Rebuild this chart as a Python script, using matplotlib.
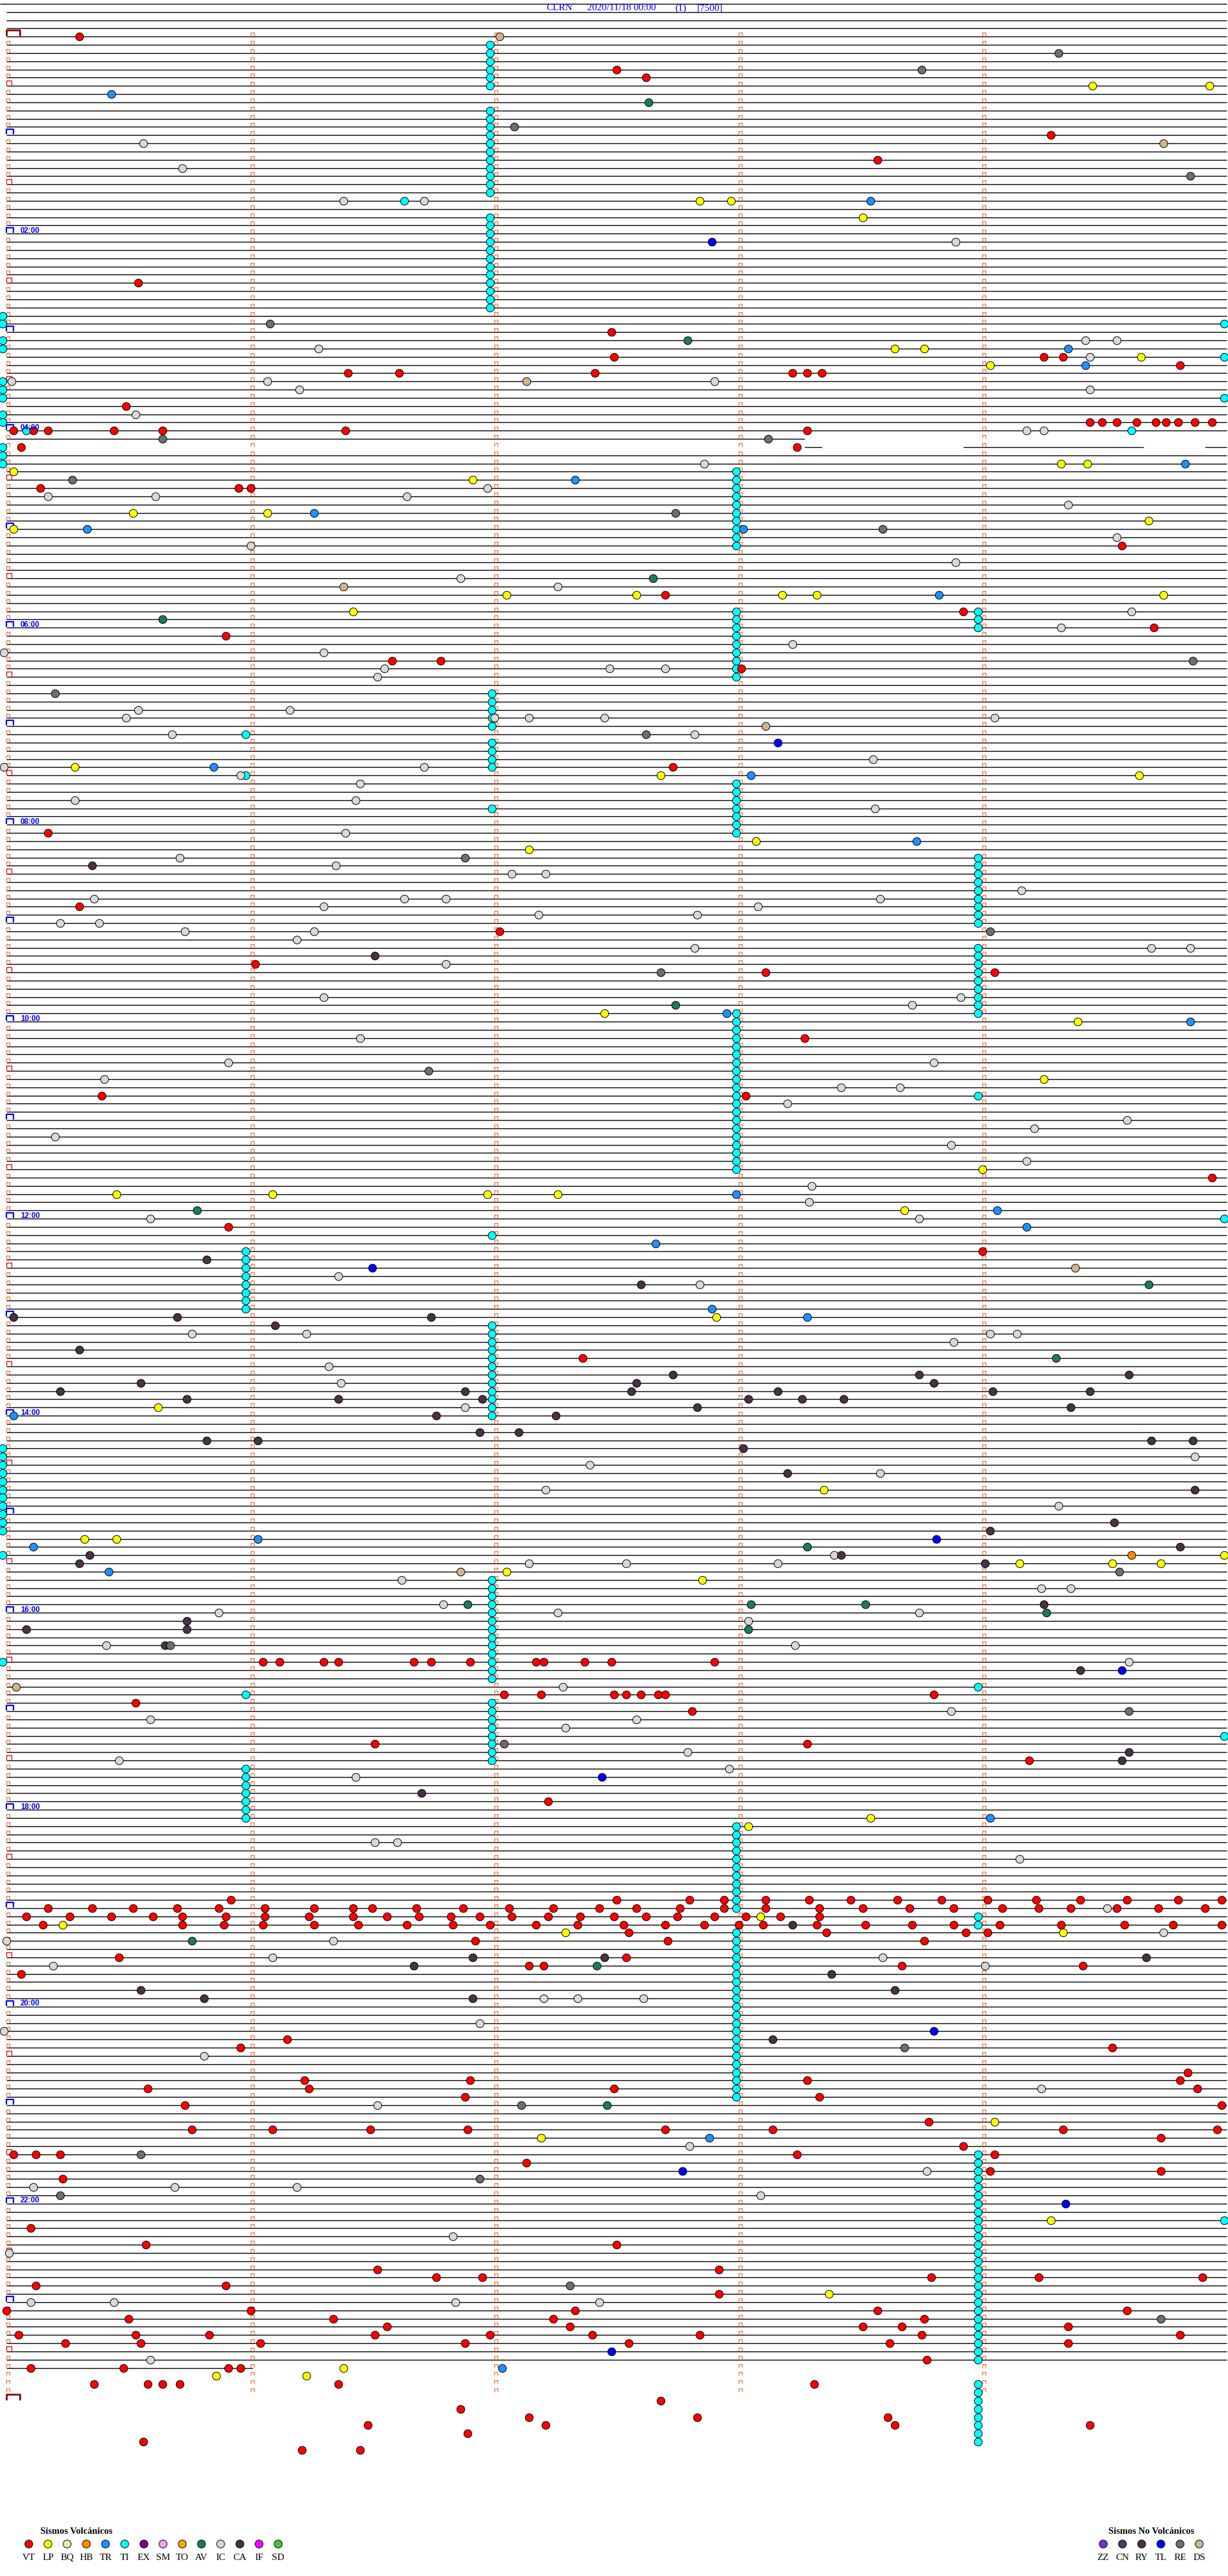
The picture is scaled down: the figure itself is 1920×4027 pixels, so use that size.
import matplotlib
matplotlib.use("Agg")
import matplotlib.pyplot as plt
from matplotlib.collections import LineCollection

# ---------------- data ----------------
TITLE_PARTS = ["CLRN", "2020/11/18 00:00", "(1)", "[7500]"]
HOUR_LABELS = ["02:00", "04:00", "06:00", "08:00", "10:00", "12:00",
               "14:00", "16:00", "18:00", "20:00", "22:00"]
N_ROWS = 288            # 5-minute rows in the day
LAST_FULL_ROW = 283     # trace drawn up to here
# partial traces: row -> list of (start_min, end_min)
TRACE_PIECES = {49: [(0.0, 3.27)],
                50: [(3.27, 3.34), (3.92, 4.66), (4.91, 5.0)],
                284: [(0.0, 1.01)]}

VOLC_CODES = ["VT", "LP", "BQ", "HB", "TR", "TI", "EX", "SM", "TO", "AV", "IC", "CA", "IF", "SD"]
VOLC_COLORS = ["#ff0000", "#ffff00", "#eee8aa", "#ff8c00", "#1e90ff", "#00ffff", "#800080",
               "#e8a8e8", "#ffa500", "#1e7a5a", "#d8d8d8", "#4a3048", "#ff00ff", "#32cd32"]
NOVOLC_CODES = ["ZZ", "CN", "RY", "TL", "RE", "DS"]
NOVOLC_COLORS = ["#7b2fd0", "#483d62", "#4f2a4f", "#0000ff", "#6e6e6e", "#d2b48c"]

# events: (row, minute inside the row)
VT = [(0, 0.30), (4, 2.50), (5, 2.62), (12, 4.28), (15, 3.57), (30, 0.54),
      (36, 2.48), (39, 2.49), (39, 4.25), (39, 4.33), (40, 4.81), (41, 1.40), (41, 1.61), (41, 2.41),
      (41, 3.22), (41, 3.28), (41, 3.34), (45, 0.49),
      (47, 4.44), (47, 4.49), (47, 4.55), (47, 4.63), (47, 4.71), (47, 4.75), (47, 4.80), (47, 4.87), (47, 4.94),
      (48, 0.03), (48, 0.11), (48, 0.17), (48, 0.44), (48, 0.64), (48, 1.39), (48, 3.28),
      (50, 0.06), (50, 3.24), (55, 0.14), (55, 0.95), (55, 1.00),
      (62, 4.57), (68, 2.70), (70, 3.92), (72, 4.70), (73, 0.90), (76, 1.58), (76, 1.78), (77, 3.01),
      (89, 2.73), (97, 0.17), (106, 0.30), (109, 2.02), (113, 1.02), (114, 3.11), (114, 4.05),
      (122, 3.27), (129, 0.39), (129, 3.03), (139, 4.94), (145, 0.91), (148, 4.00), (161, 2.36),
      (198, 1.05), (198, 1.12), (198, 1.30), (198, 1.36), (198, 1.67), (198, 1.74), (198, 1.90),
      (198, 2.17), (198, 2.20), (198, 2.37), (198, 2.48), (198, 2.90),
      (202, 2.04), (202, 2.19), (202, 2.49), (202, 2.54), (202, 2.60), (202, 2.67), (202, 2.70), (202, 3.80),
      (203, 0.53), (204, 2.81), (208, 1.51), (208, 3.28), (210, 4.19), (215, 2.22),
      (227, 0.92), (227, 2.50), (227, 2.80), (227, 2.94), (227, 3.11), (227, 3.29), (227, 3.46), (227, 3.65),
      (227, 3.83), (227, 4.02), (227, 4.22), (227, 4.40), (227, 4.59), (227, 4.80), (227, 4.98),
      (228, 0.17), (228, 0.35), (228, 0.52), (228, 0.70), (228, 0.87), (228, 1.06), (228, 1.26), (228, 1.42),
      (228, 1.50), (228, 1.68), (228, 1.87), (228, 2.06), (228, 2.24), (228, 2.43), (228, 2.58), (228, 2.76),
      (228, 2.94), (228, 3.11), (228, 3.33), (228, 3.51), (228, 3.70), (228, 3.88), (228, 4.08), (228, 4.23),
      (228, 4.36), (228, 4.55), (228, 4.72), (228, 4.91),
      (229, 0.08), (229, 0.26), (229, 0.43), (229, 0.60), (229, 0.72), (229, 0.90), (229, 1.06), (229, 1.24),
      (229, 1.42), (229, 1.56), (229, 1.69), (229, 1.82), (229, 1.94), (229, 2.07), (229, 2.22), (229, 2.35),
      (229, 2.49), (229, 2.62), (229, 2.75), (229, 2.90), (229, 3.03), (229, 3.17), (229, 3.33),
      (230, 0.15), (230, 0.72), (230, 0.89), (230, 1.05), (230, 1.26), (230, 1.44), (230, 1.64), (230, 1.83),
      (230, 1.98), (230, 2.17), (230, 2.34), (230, 2.53), (230, 2.70), (230, 2.86), (230, 3.00), (230, 3.10),
      (230, 3.32), (230, 3.52), (230, 3.71), (230, 3.88), (230, 4.07), (230, 4.32), (230, 4.58), (230, 4.78),
      (230, 4.98),
      (231, 2.55), (231, 3.36), (231, 3.93), (231, 4.02), (232, 1.92), (232, 2.71), (232, 3.76),
      (234, 0.46), (234, 2.54), (235, 2.14), (235, 2.20), (235, 3.67), (235, 4.41), (236, 0.06),
      (244, 1.15), (245, 0.96), (245, 4.53), (248, 4.84), (249, 1.22), (249, 1.90), (249, 3.28), (249, 4.81),
      (250, 1.24), (250, 2.49), (250, 0.58), (250, 4.88), (251, 1.88), (251, 3.33), (252, 0.73), (252, 4.98),
      (254, 3.78), (255, 0.76), (255, 1.09), (255, 1.49), (255, 1.89), (255, 2.70), (255, 3.14), (255, 4.33),
      (255, 4.96), (256, 4.73), (257, 3.92), (258, 0.03), (258, 0.12), (258, 0.22), (258, 3.24), (258, 4.05),
      (259, 2.13), (260, 4.03), (260, 4.73), (261, 0.23),
      (267, 0.10), (269, 0.57), (269, 2.50), (272, 1.52), (272, 2.92), (273, 1.76), (273, 1.95), (273, 3.79),
      (273, 4.23), (273, 4.90), (274, 0.12), (274, 0.90), (275, 2.92),
      (277, 0.00), (277, 1.00), (277, 2.33), (277, 3.57), (277, 4.59),
      (278, 0.50), (278, 1.34), (278, 2.24), (278, 3.76),
      (279, 1.56), (279, 2.31), (279, 3.51), (279, 3.67), (279, 4.35),
      (280, 0.05), (280, 0.53), (280, 0.83), (280, 1.51), (280, 1.98), (280, 2.40), (280, 2.84), (280, 3.75), (280, 4.81),
      (281, 0.24), (281, 0.55), (281, 1.04), (281, 1.88), (281, 2.55), (281, 3.62), (281, 4.35),
      (283, 3.77), (284, 0.10), (284, 0.48), (284, 0.91), (284, 0.96),
      (286, 0.36), (286, 0.58), (286, 0.64), (286, 0.71), (286, 1.36), (286, 3.31),
      (288, 2.68), (289, 1.86), (290, 2.14), (290, 2.83), (290, 3.61),
      (291, 1.48), (291, 2.21), (291, 3.64), (291, 4.44), (292, 1.89), (293, 0.56), (294, 1.21), (294, 1.45)]

LP = [(6, 4.45), (6, 4.93), (20, 2.84), (20, 2.97), (22, 3.51), (38, 3.64), (38, 3.76), (39, 4.65), (40, 4.03),
      (52, 4.32), (52, 4.43), (53, 0.03), (54, 1.91), (58, 0.52), (58, 1.07), (59, 4.68), (60, 0.03),
      (68, 2.05), (68, 2.58), (68, 3.18), (68, 3.32), (68, 4.74), (70, 1.42), (89, 0.28), (90, 2.68), (90, 4.64),
      (98, 3.07), (99, 2.14), (119, 2.45), (120, 4.39), (127, 4.25), (138, 4.00), (141, 0.45), (141, 1.09),
      (141, 1.97), (141, 2.26), (143, 3.68), (156, 2.91), (167, 0.62), (177, 3.35), (183, 0.32), (183, 0.45),
      (185, 4.99), (186, 4.15), (186, 4.53), (186, 4.73), (187, 2.05), (188, 2.85), (217, 3.54), (218, 3.04),
      (229, 3.09), (230, 0.23), (231, 2.29), (231, 4.33), (254, 4.05), (256, 2.19), (266, 4.28), (275, 3.37),
      (284, 1.38), (285, 0.86), (285, 1.23)]

TR = [(7, 0.43), (20, 3.54), (38, 4.35), (40, 4.42), (52, 4.83), (54, 2.33), (58, 1.26), (60, 0.33), (60, 3.02),
      (68, 3.82), (89, 0.85), (90, 3.05), (98, 3.73), (119, 2.95), (120, 4.85), (141, 2.99), (143, 4.06),
      (145, 4.18), (147, 2.66), (155, 2.89), (156, 3.28), (168, 0.03), (183, 1.03), (184, 0.11), (187, 0.42),
      (217, 4.03), (256, 2.88), (284, 2.03)]

IC = [(13, 0.56), (16, 0.72), (20, 1.38), (20, 1.71), (25, 3.89), (37, 4.42), (37, 4.55), (38, 1.28), (39, 4.44),
      (42, 0.02), (42, 1.07), (42, 2.90), (43, 1.20), (43, 4.44), (46, 0.53), (48, 4.18), (48, 4.25), (52, 2.86),
      (55, 1.97), (56, 0.17), (56, 0.61), (56, 1.64), (57, 4.35), (61, 4.55), (62, 1.00), (64, 3.89), (66, 1.86),
      (67, 2.26), (70, 4.61), (72, 4.32), (74, 3.22), (75, 1.30), (75, -0.01), (77, 1.55), (77, 2.47), (77, 2.70),
      (78, 1.52), (82, 0.54), (82, 1.16), (83, 0.49), (83, 2.00), (83, 2.14), (83, 2.45), (83, 4.05), (85, 0.68),
      (85, 2.82), (88, 3.55), (89, -0.01), (89, 1.71), (90, 0.96), (91, 1.45), (93, 0.28), (93, 1.43), (94, 3.56),
      (97, 1.39), (100, 0.71), (101, 1.35), (102, 2.07), (102, 2.21), (104, 4.16), (105, 0.36), (105, 1.63),
      (105, 1.80), (105, 3.58), (106, 1.30), (106, 3.08), (107, 2.18), (107, 2.83), (108, 0.22), (108, 0.38),
      (109, 0.73), (109, 1.26), (110, 1.19), (111, 2.82), (111, 4.69), (111, 4.85), (113, 1.80), (117, 1.30),
      (117, 3.91), (118, 3.71), (122, 1.45), (125, 0.91), (125, 3.80), (127, 0.40), (128, 3.42), (128, 3.66),
      (130, 3.20), (132, 4.59), (133, 4.21), (134, 0.20), (135, 3.87), (137, 4.18), (140, 3.30), (142, 3.29),
      (144, 3.74), (144, 0.59), (151, 1.36), (152, 2.84), (158, 0.76), (158, 1.23), (158, 4.03), (158, 4.14),
      (159, 3.88), (162, 1.32), (164, 1.37), (167, 1.88),
      (173, 4.87), (174, 2.39), (175, 3.58), (177, 2.21), (179, 4.31), (185, 3.39), (186, 2.14), (186, 2.54),
      (186, 3.16), (188, 1.62), (189, 4.24), (189, 4.36), (191, 1.79), (192, 0.87), (192, 2.26), (192, 3.74),
      (193, 3.04), (196, 0.41), (196, 3.23), (198, 4.60), (201, 2.28), (204, 3.87), (205, 0.59), (205, 2.58),
      (206, 2.29), (209, 2.79), (210, 0.46), (211, 2.96), (212, 1.43), (220, 1.51), (220, 1.60), (222, 4.15),
      (228, 4.51), (231, 4.74), (232, 0.00), (232, 1.34), (234, 1.09), (234, 3.59), (235, 0.19), (235, 4.01),
      (239, 2.20), (239, 2.34), (239, 2.61), (242, 1.94), (243, -0.01), (246, 0.81), (250, 4.24), (252, 1.52),
      (257, 2.80), (260, 3.77), (262, 0.11), (262, 0.69), (262, 1.19), (263, 3.09), (268, 1.83), (270, 0.01),
      (276, 0.10), (276, 0.44), (276, 1.84), (276, 2.43), (283, 0.59)]

CA = [(101, 0.35), (112, 1.51), (149, 0.82), (152, 2.60), (156, 0.03), (156, 0.70), (156, 1.74), (157, 1.10),
      (160, 0.30), (163, 3.74), (163, 4.60), (163, 2.73), (164, 3.80), (164, 0.55), (164, 2.58), (165, 1.88),
      (165, 2.56), (165, 3.16), (165, 4.04), (165, 4.44), (165, 0.22), (166, 1.95), (166, 3.04), (166, 3.26),
      (166, 3.43), (166, 0.74), (166, 1.36), (167, 4.36), (167, 2.83), (168, 1.76), (168, 2.25),
      (170, 1.94), (170, 2.10), (171, 0.82), (171, 1.03), (171, 4.69), (171, 4.86), (172, 3.02), (175, 3.20),
      (177, 4.87), (181, 4.54), (182, 4.03), (184, 4.81), (185, 0.34), (185, 3.42), (186, 0.30), (186, 4.01),
      (191, 4.25), (193, 0.74), (194, 0.08), (194, 0.74), (196, 0.65), (199, 4.40), (209, 4.60), (210, 4.57),
      (214, 1.70), (230, 3.22), (234, 1.91), (234, 2.45), (234, 4.67), (235, 1.67), (236, 3.38), (238, 0.55),
      (238, 3.64), (239, 0.81), (239, 1.91), (244, 3.14)]

AV = [(8, 2.63), (37, 2.79), (66, 2.65), (71, 0.64), (118, 2.74), (143, 0.78), (152, 4.68), (161, 4.30),
      (184, 3.28), (191, 1.89), (191, 3.05), (191, 3.52), (192, 4.26), (194, 3.04), (232, 0.76), (235, 2.42),
      (252, 2.46)]

HB = [(185, 4.61)]

RE = [(2, 4.31), (4, 3.75), (11, 2.08), (17, 4.85), (35, 1.08), (49, 0.64), (49, 3.12), (54, 0.27), (58, 2.74),
      (60, 3.59), (76, 4.86), (80, 0.20), (85, 2.62), (100, 1.88), (109, 4.03), (114, 2.68), (126, 1.73),
      (187, 4.56), (196, 0.67), (204, 4.60), (208, 2.04), (245, 3.68), (252, 2.11), (258, 0.55), (261, 1.94),
      (263, 0.22), (274, 2.31), (278, 4.73)]

DS = [(0, 2.02), (13, 4.74), (42, 2.13), (67, 1.38), (84, 3.11), (150, 4.38), (187, 1.86), (201, 0.04)]

TL = [(25, 2.89), (86, 3.16), (150, 1.50), (183, 3.81), (199, 4.57), (212, 2.44), (243, 3.80), (260, 2.77),
      (264, 4.34), (282, 2.48)]

# tremor (TI) episodes: rows holding a TI mark at about the same minute
TI_198_ROWS = [1, 2, 3, 4, 5, 6, 9, 10, 11, 12, 13, 14, 15, 16, 17, 18, 19, 22, 23, 24, 25, 26, 27, 28,
               29, 30, 31, 32, 33]
TI_299_ROWS = [53, 54, 55, 56, 57, 58, 59, 60, 61, 62, 70, 71, 72, 73, 74, 75, 76, 77, 78, 91, 92, 93, 94,
               95, 96, 97, 119, 120, 121, 122, 123, 124, 125, 126, 127, 128, 129, 130, 131, 132, 133, 134,
               135, 136, 137, 138, 218, 219, 220, 221, 222, 223, 224, 225, 226, 227, 228, 231, 232, 233,
               234, 235, 236, 237, 238, 239, 240, 241, 242, 243, 244, 245, 246, 247, 248, 249, 250, 251]
TI_398_ROWS = [70, 71, 72, 100, 101, 102, 103, 104, 105, 106, 107, 108, 111, 112, 113, 114, 115, 116, 117,
               118, 119, 129, 201, 229, 230, 258, 259, 260, 261, 262, 263, 264, 265, 266, 267, 268, 269,
               270, 271, 272, 273, 274, 275, 276, 277, 278, 279, 280, 281, 282, 283, 286, 287, 288, 289,
               290, 291, 292, 293]
TI_199_ROWS = [80, 81, 82, 83, 84, 86, 87, 88, 89, 94, 146, 157, 158, 159, 160, 161, 162, 163, 164, 165,
               166, 167, 168, 188, 189, 190, 191, 192, 193, 194, 195, 196, 197, 198, 199, 200, 203, 204,
               205, 206, 207, 208, 209, 210]
TI_098_ROWS = [85, 90, 148, 149, 150, 151, 152, 153, 154, 155, 202, 211, 212, 213, 214, 215, 216, 217]
TI_START_ROWS = [34, 35, 37, 38, 42, 43, 44, 46, 47, 50, 51, 52, 172, 173, 174, 175, 176, 177, 178, 179,
                 180, 181, 182, 185, 198]
TI_END_ROWS = [35, 39, 44, 144, 207, 266]
TI_OTHER = [(20, 1.63), (48, 0.08), (48, 4.61)]

# ---------------- layout ----------------
W, H = 1920, 4027
X0, PX_MIN = 10.0, 381.6      # pixel of minute 0, pixels per minute
Y0, PX_ROW = 57.3, 12.832     # pixel of row 0, pixels per row

def dx(px):
    return px / PX_MIN

def dy(px):
    return px / PX_ROW

fig = plt.figure(figsize=(W / 100, H / 100), dpi=100)
fig.patch.set_facecolor("white")
ax = fig.add_axes([0, 0, 1, 1])
ax.set_xlim(-X0 / PX_MIN, (W - X0) / PX_MIN)
ax.set_ylim((H - Y0) / PX_ROW, -Y0 / PX_ROW)
ax.axis("off")
pix = fig.add_axes([0, 0, 1, 1])
pix.set_xlim(0, W)
pix.set_ylim(H, 0)
pix.axis("off")
pix.patch.set_alpha(0)

# trace lines
segs = [[(-X0 / PX_MIN, -4), (5.0, -4)]]
for r in (-3, -2, -1):
    segs.append([(0, r), (5.0, r)])
for r in range(0, LAST_FULL_ROW + 1):
    if r in TRACE_PIECES:
        continue
    segs.append([(0, r), (5.0, r)])
for r, pieces in TRACE_PIECES.items():
    for a, b in pieces:
        segs.append([(a, r), (b, r)])
ax.add_collection(LineCollection(segs, colors="black", linewidths=1.0, zorder=1))

# minute marks and hour / half-hour boxes
def cap(x, r, w, h):
    return [(x, r - dy(1)), (x, r - dy(h)), (x + dx(w), r - dy(h)), (x + dx(w), r - dy(1))]

small, red_box, blue_box, day_box = [], [], [], []
for r in range(N_ROWS):
    for m in range(5):
        if m == 0 and r == 0:
            day_box.append(cap(0, r, 21, 10))
        elif m == 0 and r % 12 == 0:
            blue_box.append(cap(0, r, 11, 9))
        elif m == 0 and r % 6 == 0:
            red_box.append(cap(0, r, 8, 8))
        else:
            small.append(cap(m, r, 5, 6))
day_box.append(cap(0, N_ROWS, 21, 10))
ax.add_collection(LineCollection(small, colors="#ff5a1f", linewidths=0.8, zorder=2))
ax.add_collection(LineCollection(red_box, colors="#ff0000", linewidths=1.0, zorder=2))
ax.add_collection(LineCollection(blue_box, colors="#0000ff", linewidths=1.6, zorder=2))
ax.add_collection(LineCollection(day_box, colors="#8b0000", linewidths=2.0, zorder=2))

# events
color_of = dict(zip(VOLC_CODES + NOVOLC_CODES, VOLC_COLORS + NOVOLC_COLORS))
TI = ([(r, 1.98) for r in TI_198_ROWS] + [(r, 2.99) for r in TI_299_ROWS]
      + [(r, 3.98) for r in TI_398_ROWS] + [(r, 1.99) for r in TI_199_ROWS]
      + [(r, 0.98) for r in TI_098_ROWS] + [(r, -0.016) for r in TI_START_ROWS]
      + [(r, 4.99) for r in TI_END_ROWS] + TI_OTHER)
events = [("TI", TI), ("IC", IC), ("LP", LP), ("TR", TR), ("CA", CA), ("AV", AV), ("HB", HB),
          ("RE", RE), ("DS", DS), ("TL", TL), ("VT", VT)]
DOT = 80
for code, pts in events:
    ax.scatter([p[1] for p in pts], [p[0] for p in pts], s=DOT, c=color_of[code],
               edgecolors="black", linewidths=0.7, zorder=5)

# title
for s, px in zip(TITLE_PARTS, [854, 918, 1055, 1090]):
    pix.text(px, 13, s, color="#0000ff", fontsize=11, family="Liberation Serif",
             ha="left", va="center")

# hour labels
for lab in HOUR_LABELS:
    r = int(lab[:2]) * 12
    pix.text(32, Y0 + r * PX_ROW - 1.5, lab, color="#0000ff", fontsize=8.5, fontweight="bold",
             family="Liberation Sans", ha="left", va="baseline")

# legends
def legend(codes, colors, x_first, title, title_x):
    xs = [x_first + 30 * i for i in range(len(codes))]
    pix.scatter(xs, [3977] * len(xs), s=DOT, c=colors, edgecolors="black", linewidths=0.7, zorder=5)
    for x, c in zip(xs, codes):
        pix.text(x, 3998, c, fontsize=11, family="Liberation Serif", ha="center", va="center")
    pix.text(title_x, 3957, title, fontsize=10.5, fontweight="bold", family="Liberation Serif",
             ha="left", va="center")

legend(VOLC_CODES, VOLC_COLORS, 45, "Sismos Volcánicos", 63)
legend(NOVOLC_CODES, NOVOLC_COLORS, 1725, "Sismos No Volcánicos", 1733)

fig.savefig("out.png", dpi=100, facecolor="white")
